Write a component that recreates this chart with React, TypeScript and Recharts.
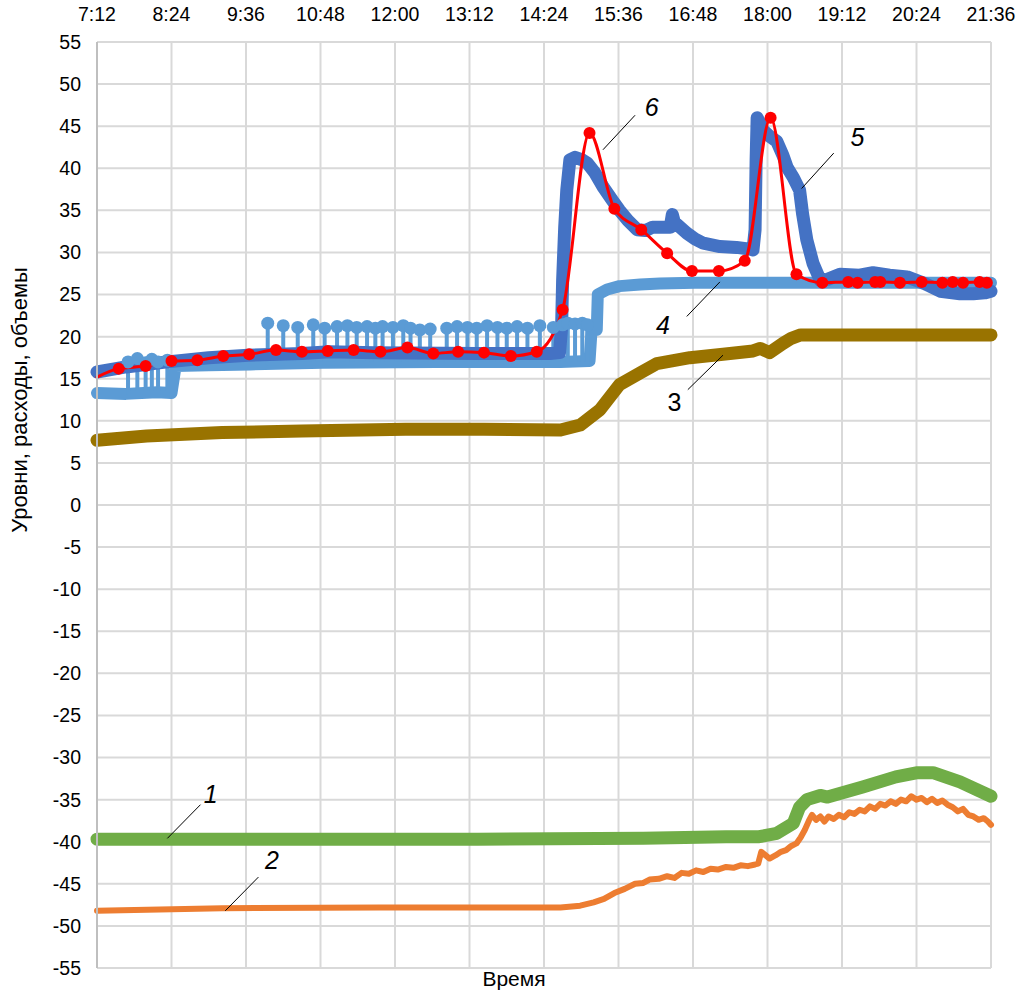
import React from "react";
import {
  LineChart,
  Line,
  XAxis,
  YAxis,
  CartesianGrid,
  ReferenceLine,
  ReferenceDot,
} from "recharts";

// time is kept in minutes since midnight
const xTicks = [432, 504, 576, 648, 720, 792, 864, 936, 1008, 1080, 1152, 1224, 1296];
const yTicks = [55, 50, 45, 40, 35, 30, 25, 20, 15, 10, 5, 0, -5, -10, -15, -20, -25, -30, -35, -40, -45, -50, -55];
const minorTicks = Array.from({ length: 111 }, (_, i) => -55 + i);

// 1 – green
const time1 = [432, 600, 800, 960, 1040, 1072, 1089, 1105, 1111, 1118, 1131, 1138, 1172, 1204, 1225, 1240, 1266, 1296];
const level1 = [-39.7, -39.7, -39.7, -39.6, -39.4, -39.4, -39.0, -37.8, -35.9, -35.0, -34.5, -34.7, -33.5, -32.3, -31.8, -31.8, -32.9, -34.6];

// 2 – orange
const time2 = [
  432, 553, 705, 880, 899, 912, 922, 932, 942, 952, 960, 966, 975, 983, 990, 997, 1004, 1011, 1018, 1025,
  1032, 1040, 1047, 1054, 1061, 1068, 1071, 1074, 1078, 1082, 1088, 1093, 1098, 1103, 1108, 1112, 1116,
  1120, 1123, 1127, 1131, 1135, 1139, 1144, 1149, 1154, 1159, 1164, 1169, 1174, 1179, 1184, 1189, 1194,
  1199, 1204, 1209, 1214, 1219, 1224, 1229, 1234, 1239, 1244, 1249, 1254, 1259, 1264, 1269, 1274, 1279,
  1284, 1289, 1293, 1296,
];
const level2 = [
  -48.2, -47.9, -47.8, -47.8, -47.6, -47.2, -46.8, -46.1, -45.6, -45.0, -44.9, -44.5, -44.4, -44.1, -44.3,
  -43.7, -43.8, -43.4, -43.6, -43.2, -43.3, -43.0, -43.1, -42.8, -42.9, -42.7, -42.6, -41.2, -41.6, -42.0,
  -41.6, -41.2, -41.0, -40.5, -40.2, -39.5, -38.6, -37.5, -36.8, -37.4, -37.0, -37.6, -37.0, -37.3, -36.8,
  -37.1, -36.5, -36.7, -36.2, -36.4, -35.8, -36.1, -35.5, -35.7, -35.2, -35.5, -35.0, -35.2, -34.6, -35.0,
  -34.8, -35.3, -34.9, -35.4, -35.1, -35.6, -35.9, -36.4, -36.1, -36.8, -37.0, -37.4, -37.2, -37.6, -38.0,
];

// 3 – brown
const time3 = [432, 480, 553, 630, 730, 806, 880, 899, 918, 937, 957, 973, 1005, 1037, 1066, 1073, 1082, 1095, 1103, 1112, 1150, 1296];
const level3 = [7.7, 8.2, 8.6, 8.8, 9.0, 9.0, 8.9, 9.5, 11.3, 14.3, 15.7, 16.8, 17.5, 17.9, 18.3, 18.6, 18.1, 19.2, 19.8, 20.2, 20.2, 20.2];

// 4 – light blue: base level plus short spikes
const time4 = [432, 460, 490, 504, 508, 540, 580, 650, 760, 880, 908, 910, 915, 916, 925, 937, 957, 976, 1010, 1296];
const level4 = [13.3, 13.2, 13.4, 13.3, 16.5, 16.6, 16.7, 16.9, 17.0, 17.0, 17.1, 20.8, 20.8, 25.0, 25.6, 26.0, 26.2, 26.3, 26.4, 26.4];
const spikeLowBase = 13.3;
const spikeLowTime = [462, 471, 479, 485, 491, 500];
const spikeLowTop = [17.0, 17.4, 16.9, 17.3, 17.0, 17.2];
const spikeHighBase = 16.8;
const spikeHighTime = [
  597, 612, 626, 641, 652, 664, 674, 683, 693, 701, 708, 718, 728, 735, 744, 754, 770, 780, 790, 799, 809,
  819, 828, 838, 848, 860, 873, 882, 887, 894, 901, 906,
];
const spikeHighTop = [
  21.6, 21.3, 21.1, 21.4, 21.0, 21.2, 21.3, 21.1, 21.2, 21.0, 21.2, 21.1, 21.3, 21.0, 20.8, 20.9, 21.0, 21.2,
  21.1, 21.0, 21.3, 21.1, 21.0, 21.2, 21.0, 21.3, 21.1, 21.4, 21.6, 21.5, 21.6, 21.4,
];

// 5 – dark blue
const time5 = [
  432, 460, 500, 540, 578, 630, 657, 700, 800, 870, 879, 881, 882, 884, 886, 889, 894, 901, 906, 913, 921,
  930, 937, 945, 954, 962, 969, 978, 986, 988, 990, 1002, 1010, 1018, 1034, 1050, 1063, 1066, 1068, 1069,
  1070, 1073, 1076, 1082, 1089, 1095, 1099, 1105, 1111, 1114, 1118, 1124, 1131, 1138, 1150, 1169, 1182,
  1198, 1215, 1232, 1247, 1266, 1279, 1290, 1296,
];
const level5 = [
  15.8, 16.4, 17.0, 17.5, 17.8, 18.0, 18.2, 18.1, 18.0, 18.0, 18.1, 21.0, 26.7, 33.0, 37.4, 41.0, 41.3,
  41.0, 40.6, 39.5, 37.8, 36.2, 35.0, 33.8, 32.7, 32.6, 33.0, 33.0, 33.0, 34.5, 33.6, 32.3, 31.6, 31.1,
  30.7, 30.6, 30.4, 30.3, 32.7, 41.0, 46.0, 45.3, 44.5, 43.8, 43.2, 41.5, 40.1, 38.9, 37.4, 34.5, 31.5,
  28.7, 26.7, 26.8, 27.4, 27.3, 27.6, 27.3, 27.1, 26.3, 25.4, 25.1, 25.1, 25.2, 25.4,
];

// 6 – red, measured points
const time6 = [
  432, 453, 479, 504, 529, 554, 579, 605, 630, 655, 680, 706, 732, 757, 781, 806, 832, 857, 882, 908, 932,
  958, 983, 1007, 1033, 1058, 1083, 1108, 1133, 1158, 1167, 1184, 1189, 1208, 1229, 1249, 1259, 1269, 1285, 1292,
];
const level6 = [
  15.2, 16.2, 16.5, 17.1, 17.2, 17.7, 17.9, 18.4, 18.2, 18.3, 18.4, 18.2, 18.7, 18.0, 18.2, 18.1, 17.7,
  18.2, 23.2, 44.2, 35.2, 32.7, 29.9, 27.8, 27.8, 29.0, 46.0, 27.4, 26.4, 26.5, 26.4, 26.5, 26.5, 26.4,
  26.5, 26.4, 26.5, 26.4, 26.5, 26.4,
];

// numbered callouts: label point and leader line, in data units
const notes = [
  { text: "1", italic: true, x: 542, y: -34.3, x1: 500, y1: -39.6, x2: 532, y2: -35.6 },
  { text: "2", italic: true, x: 601, y: -42.2, x1: 556, y1: -48.2, x2: 588, y2: -44.2 },
  { text: "3", italic: false, x: 990, y: 12.2, x1: 1003, y1: 13.7, x2: 1037, y2: 17.8 },
  { text: "4", italic: true, x: 979, y: 21.4, x1: 1002, y1: 22.4, x2: 1034, y2: 26.5 },
  { text: "5", italic: true, x: 1167, y: 43.7, x1: 1113, y1: 37.6, x2: 1144, y2: 41.8 },
  { text: "6", italic: true, x: 968, y: 47.3, x1: 921, y1: 42.2, x2: 952, y2: 46.3 },
];

const FONT = "'Liberation Sans', Arial, sans-serif";

const toPoints = (t: number[], v: number[]) => t.map((x, i) => ({ t: x, v: v[i] }));

// each spike: up from the base to the top value and back down
const toSpikes = (t: number[], top: number[], base: number) =>
  t.flatMap((x, i) => [
    { t: x, v: base },
    { t: x, v: top[i], top: true },
    { t: x, v: base },
  ]);

const fmtTime = (m: number) => `${Math.floor(m / 60)}:${String(m % 60).padStart(2, "0")}`;

const SpikeDot = (props: any) => {
  const { cx, cy, payload, index } = props;
  if (!payload || !payload.top) return <g key={index} />;
  return <circle key={index} cx={cx} cy={cy} r={6.5} fill="#5b9bd5" />;
};

const RedDot = (props: any) => {
  const { cx, cy, index } = props;
  if (index === 0) return <g key={index} />;
  return <circle key={index} cx={cx} cy={cy} r={6} fill="#ff0000" />;
};

const App = () => {
  const band = {
    type: "linear" as const,
    dataKey: "v",
    dot: false,
    activeDot: false,
    strokeLinecap: "round" as const,
    strokeLinejoin: "round" as const,
    isAnimationActive: false,
  };

  return (
    <div style={{ position: "absolute", left: 0, top: 0, width: 1021, height: 992, background: "#fff" }}>
      <LineChart
        width={1021}
        height={992}
        margin={{ top: 12, right: 30, bottom: 0, left: 37 }}
        style={{ fontFamily: FONT }}
      >
        <CartesianGrid stroke="#d9d9d9" strokeWidth={2} />
        <XAxis
          dataKey="t"
          type="number"
          orientation="top"
          domain={[432, 1296]}
          ticks={xTicks}
          tickFormatter={fmtTime}
          height={30}
          tickSize={0}
          tickMargin={21}
          axisLine={false}
          tickLine={false}
          tick={{ fill: "#000", fontSize: 19.5 }}
          interval={0}
        />
        <XAxis
          xAxisId="title"
          dataKey="t"
          type="number"
          orientation="bottom"
          domain={[432, 1296]}
          height={24}
          axisLine={false}
          tickLine={false}
          tick={false}
          label={{
            content: () => (
              <text x={514} y={986} textAnchor="middle" fontSize={21} fill="#000" fontFamily={FONT}>
                Время
              </text>
            ),
          }}
        />
        <YAxis
          type="number"
          domain={[-55, 55]}
          ticks={yTicks}
          interval={0}
          width={60}
          tickSize={0}
          tickMargin={16}
          tickLine={false}
          axisLine={{ stroke: "#bfbfbf", strokeWidth: 2 }}
          tick={{ fill: "#000", fontSize: 19.5 }}
          label={{
            content: () => (
              <text
                transform="translate(27,400) rotate(-90)"
                textAnchor="middle"
                fontSize={22}
                fill="#000"
                fontFamily={FONT}
              >
                Уровни, расходы, объемы
              </text>
            ),
          }}
        />
        <YAxis
          yAxisId="minor"
          type="number"
          domain={[-55, 55]}
          ticks={minorTicks}
          interval={0}
          width={0}
          mirror
          tickSize={4}
          axisLine={false}
          tickLine={{ stroke: "#bfbfbf", strokeWidth: 1.5 }}
          tickFormatter={() => ""}
        />

        <Line {...band} data={toPoints(time1, level1)} stroke="#70ad47" strokeWidth={13} />
        <Line {...band} data={toPoints(time2, level2)} stroke="#ed7d31" strokeWidth={6} />
        <Line {...band} data={toPoints(time3, level3)} stroke="#997300" strokeWidth={13} />
        <Line {...band} data={toPoints(time4, level4)} stroke="#5b9bd5" strokeWidth={12} />
        <Line
          {...band}
          data={toSpikes(spikeLowTime, spikeLowTop, spikeLowBase)}
          stroke="#5b9bd5"
          strokeWidth={4}
          dot={SpikeDot}
        />
        <Line
          {...band}
          data={toSpikes(spikeHighTime, spikeHighTop, spikeHighBase)}
          stroke="#5b9bd5"
          strokeWidth={4}
          dot={SpikeDot}
        />
        <Line {...band} data={toPoints(time5, level5)} stroke="#4472c4" strokeWidth={13} />
        <Line
          {...band}
          type="monotone"
          data={toPoints(time6, level6)}
          stroke="#ff0000"
          strokeWidth={3}
          dot={RedDot}
        />

        {notes.map((n) => (
          <ReferenceLine
            key={`l${n.text}`}
            segment={[
              { x: n.x1, y: n.y1 },
              { x: n.x2, y: n.y2 },
            ]}
            stroke="#000"
            strokeWidth={1}
            ifOverflow="visible"
          />
        ))}
        {notes.map((n) => (
          <ReferenceDot
            key={`d${n.text}`}
            x={n.x}
            y={n.y}
            r={0}
            fill="none"
            stroke="none"
            ifOverflow="visible"
            label={{
              value: n.text,
              position: "center",
              fontSize: 25,
              fontStyle: n.italic ? "italic" : "normal",
              fill: "#000",
              fontFamily: FONT,
            }}
          />
        ))}
      </LineChart>
    </div>
  );
};

export default App;
